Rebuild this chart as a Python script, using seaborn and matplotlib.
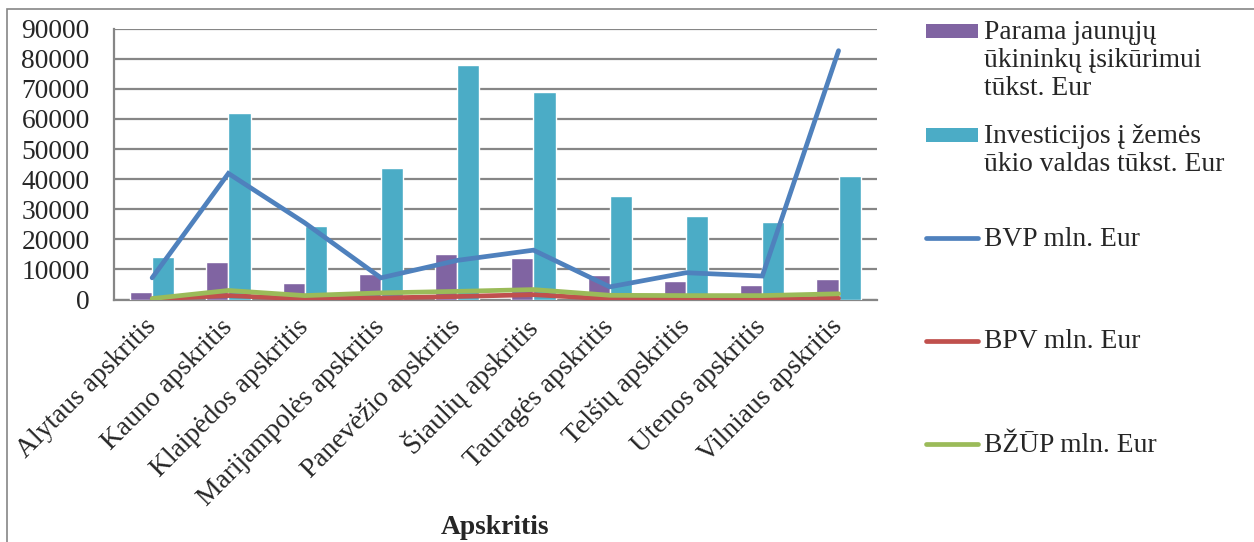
import numpy as np
import pandas as pd
import matplotlib
matplotlib.use("Agg")
import matplotlib.pyplot as plt
from matplotlib.patches import Rectangle
from matplotlib.lines import Line2D
import seaborn as sns

categories = ["Alytaus apskritis", "Kauno apskritis", "Klaipėdos apskritis",
              "Marijampolės apskritis", "Panevėžio apskritis", "Šiaulių apskritis",
              "Tauragės apskritis", "Telšių apskritis", "Utenos apskritis",
              "Vilniaus apskritis"]
parama = [2500, 12300, 5400, 8600, 15100, 13900, 8000, 6300, 4800, 6800]
investicijos = [14000, 62000, 24400, 43800, 77800, 69000, 34400, 27700, 25900, 41200]
bvp = [7200, 41900, 25500, 7200, 13000, 16400, 4200, 8900, 7800, 82700]
bpv = [200, 1300, 200, 500, 1000, 1600, 200, 100, 100, 400]
bzup = [300, 3000, 1300, 2200, 2700, 3300, 1400, 1300, 1300, 1900]

bar_names = ["Parama jaunųjų\nūkininkų įsikūrimui\ntūkst. Eur",
             "Investicijos į žemės\nūkio valdas tūkst. Eur"]
line_names = ["BVP mln. Eur", "BPV mln. Eur", "BŽŪP mln. Eur"]
yticks = list(range(0, 90001, 10000))
xlabel = "Apskritis"

bar_colors = ["#8064A2", "#4BACC6"]
line_colors = ["#4F81BD", "#C0504D", "#9BBB59"]
grid_col = "#868686"

sns.set_style("white")
plt.rcParams["font.family"] = ["Liberation Serif", "DejaVu Serif"]
FS = 19.8

W, H = 1254, 542
fig = plt.figure(figsize=(W / 100, H / 100), dpi=100)
ax = fig.add_axes([114 / W, 1 - 299.5 / H, (876.7 - 114) / W, (299.5 - 28.7) / H])

df_bars = pd.DataFrame({
    "cat": categories * 2,
    "val": parama + investicijos,
    "series": [bar_names[0]] * len(categories) + [bar_names[1]] * len(categories),
})
sns.barplot(data=df_bars, x="cat", y="val", hue="series", order=categories,
            hue_order=bar_names, palette=bar_colors, width=0.58, gap=0,
            saturation=1, legend=False, ax=ax, zorder=3, errorbar=None)

pos = np.arange(len(categories))
for vals, col in zip([bpv, bzup, bvp], [line_colors[1], line_colors[2], line_colors[0]]):
    sns.lineplot(x=pos, y=vals, color=col, linewidth=3.4, ax=ax, zorder=4,
                 solid_capstyle="round", solid_joinstyle="miter")

ax.set_xlim(-0.5, len(categories) - 0.5)
ax.set_ylim(0, 90000)
ax.set_yticks(yticks)
ax.set_yticklabels([str(v) for v in yticks], fontsize=FS)
ax.set_xticks(pos)
ax.set_xticklabels(categories, fontsize=FS, rotation=45, ha="right",
                   rotation_mode="anchor", va="center")
ax.set_xticks(np.arange(-0.5, len(categories)), minor=True)
ax.tick_params(axis="x", which="major", length=0, pad=17)
ax.tick_params(axis="x", which="minor", length=6, width=1.3, color=grid_col, direction="out")
ax.tick_params(axis="y", length=6.5, width=1.3, color=grid_col, pad=11, direction="out")
ax.set_xlabel("")
ax.set_ylabel("")
ax.yaxis.grid(True, color=grid_col, linewidth=1.6, zorder=0)
ax.set_axisbelow(True)
for s in ["top", "right"]:
    ax.spines[s].set_visible(False)
for s in ["left", "bottom"]:
    ax.spines[s].set_color(grid_col)
    ax.spines[s].set_linewidth(1.6)

fig.text(495 / W, 1 - 527 / H, xlabel, fontsize=FS, fontweight="bold",
         ha="center", va="center")

# chart-area border
fig.add_artist(Rectangle((7 / W, -0.1), 1.2, 1 - 9 / H + 0.1, transform=fig.transFigure,
                         fill=False, edgecolor=grid_col, linewidth=1.2))

# legend (manual, Excel-style spacing)
def fy(py):
    return 1 - py / H

fig.add_artist(Rectangle((926 / W, fy(38)), 52 / W, 14 / H, transform=fig.transFigure,
                         facecolor=bar_colors[0], edgecolor="none"))
fig.text(984 / W, fy(20), bar_names[0], fontsize=FS, ha="left", va="top", linespacing=1.17)
fig.add_artist(Rectangle((926 / W, fy(142)), 52 / W, 14 / H, transform=fig.transFigure,
                         facecolor=bar_colors[1], edgecolor="none"))
fig.text(984 / W, fy(124), bar_names[1], fontsize=FS, ha="left", va="top", linespacing=1.17)
for name, col, py in zip(line_names, line_colors, [238, 341, 444]):
    fig.add_artist(Line2D([926 / W, 978 / W], [fy(py), fy(py)], transform=fig.transFigure,
                          color=col, linewidth=3.4, solid_capstyle="round"))
    fig.text(984 / W, fy(py + 1), name, fontsize=FS, ha="left", va="center")

fig.savefig("out.png", dpi=100)
